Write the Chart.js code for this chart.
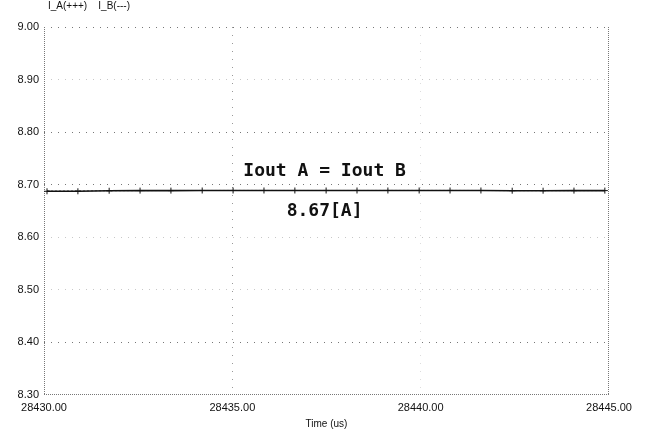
<!DOCTYPE html>
<html>
<head>
<meta charset="utf-8">
<script src="https://cdn.jsdelivr.net/npm/chart.js@4/dist/chart.umd.min.js"></script>
<style>
html,body{margin:0;padding:0;background:#fff;}
#wrap{width:646px;height:434px;position:relative;}
</style>
</head>
<body>
<div id="wrap"><canvas id="c" width="646" height="434"></canvas></div>
<script>
const timeUs = [28430.08, 28430.90, 28431.73, 28432.55, 28433.37, 28434.20, 28435.02, 28435.84, 28436.66, 28437.49, 28438.31, 28439.13, 28439.96, 28440.78, 28441.60, 28442.43, 28443.25, 28444.07, 28444.89];
const iA = [8.6875, 8.6875, 8.6885, 8.6888, 8.6888, 8.6890, 8.6890, 8.6890, 8.6890, 8.6890, 8.6890, 8.6890, 8.6890, 8.6890, 8.6890, 8.6886, 8.6886, 8.6888, 8.6888];
const iB = [8.6880, 8.6882, 8.6886, 8.6888, 8.6890, 8.6890, 8.6891, 8.6891, 8.6890, 8.6890, 8.6890, 8.6891, 8.6891, 8.6891, 8.6890, 8.6888, 8.6888, 8.6888, 8.6889];
const yTicks = [8.30, 8.40, 8.50, 8.60, 8.70, 8.80, 8.90, 9.00];
const xTicks = [28430, 28435, 28440, 28445];
const legendText = "I_A(+++)    I_B(---)";
const noteTop = "Iout A = Iout B";
const noteBottom = "8.67[A]";

const decor = {
  id: 'decor',
  beforeDatasetsDraw(chart) {
    const {ctx, chartArea: a} = chart;
    ctx.save();
    ctx.strokeStyle = '#777';
    ctx.lineWidth = 1;
    ctx.setLineDash([1, 1]);
    ctx.beginPath();
    ctx.moveTo(a.left + 0.5, a.top); ctx.lineTo(a.left + 0.5, a.bottom);
    ctx.moveTo(a.right - 0.5, a.top); ctx.lineTo(a.right - 0.5, a.bottom);
    ctx.moveTo(a.left, a.bottom - 0.5); ctx.lineTo(a.right, a.bottom - 0.5);
    ctx.stroke();
    ctx.restore();
  },
  afterDraw(chart) {
    const {ctx, scales: {x, y}} = chart;
    ctx.save();
    ctx.fillStyle = '#111';
    ctx.font = '10px "Liberation Sans", Arial, sans-serif';
    ctx.textAlign = 'left';
    ctx.textBaseline = 'middle';
    ctx.fillText(legendText, x.left + 4, 6);
    ctx.font = 'bold 18px "DejaVu Sans Mono", monospace';
    ctx.textAlign = 'center';
    ctx.fillText(noteTop, x.getPixelForValue(28437.45), y.getPixelForValue(8.725));
    ctx.fillText(noteBottom, x.getPixelForValue(28437.45), y.getPixelForValue(8.650));
    ctx.restore();
  }
};

const strongY = [9.0, 8.8, 8.7, 8.4];
new Chart(document.getElementById('c'), {
  type: 'line',
  data: {
    datasets: [
      {
        label: 'I_A',
        data: timeUs.map((t, i) => ({x: t, y: iA[i]})),
        borderColor: '#111',
        borderWidth: 1.6,
        pointStyle: 'cross',
        pointRadius: 3,
        pointBorderColor: '#111',
        pointBorderWidth: 1,
        tension: 0
      },
      {
        label: 'I_B',
        data: timeUs.map((t, i) => ({x: t, y: iB[i]})),
        borderColor: '#777',
        borderWidth: 1,
        borderDash: [2, 2],
        pointRadius: 0,
        tension: 0
      }
    ]
  },
  options: {
    responsive: false,
    animation: false,
    devicePixelRatio: 1,
    layout: {padding: {top: 27, right: 37, left: 0, bottom: 0}},
    plugins: {legend: {display: false}, tooltip: {enabled: false}},
    scales: {
      x: {
        type: 'linear',
        min: 28430, max: 28445,
        afterBuildTicks(s) { s.ticks = xTicks.map(v => ({value: v})); },
        afterFit(s) { s.height = 39; },
        ticks: {
          color: '#111',
          font: {family: '"Liberation Sans", Arial, sans-serif', size: 11},
          padding: 6,
          maxRotation: 0,
          callback: v => Number(v).toFixed(2)
        },
        grid: {
          drawTicks: false,
          color: ctx => (ctx.tick && ctx.tick.value === 28435) ? '#999' : (ctx.tick && ctx.tick.value === 28440 ? '#ddd' : 'rgba(0,0,0,0)'),
          lineWidth: 1
        },
        border: {display: false, dash: [1, 7]},
        title: {
          display: true,
          text: 'Time (us)',
          color: '#111',
          font: {family: '"Liberation Sans", Arial, sans-serif', size: 10},
          padding: {top: 2, bottom: 4}
        }
      },
      y: {
        type: 'linear',
        min: 8.30, max: 9.00,
        afterBuildTicks(s) { s.ticks = yTicks.map(v => ({value: v})); },
        afterFit(s) { s.width = 44; },
        ticks: {
          color: '#111',
          font: {family: '"Liberation Sans", Arial, sans-serif', size: 11},
          padding: 5,
          callback: v => Number(v).toFixed(2)
        },
        grid: {
          drawTicks: false,
          color: ctx => {
            if (!ctx.tick) return 'rgba(0,0,0,0)';
            const v = Math.round(ctx.tick.value * 100) / 100;
            if (v === 8.3) return 'rgba(0,0,0,0)';
            return strongY.some(s => Math.abs(s - v) < 1e-6) ? '#777' : '#c8c8c8';
          },
          lineWidth: 1
        },
        border: {display: false, dash: [1, 6]}
      }
    }
  },
  plugins: [decor]
});
</script>
</body>
</html>
